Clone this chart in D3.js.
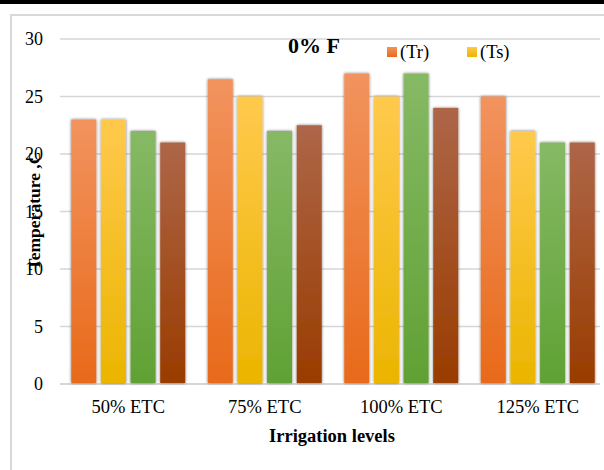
<!DOCTYPE html>
<html>
<head>
<meta charset="utf-8">
<script src="https://cdn.jsdelivr.net/npm/d3@7/dist/d3.min.js"></script>
<style>
  html, body { margin: 0; padding: 0; background: #fff; }
  svg { display: block; font-family: "Liberation Serif", "Times New Roman", serif; }
</style>
</head>
<body>
<svg id="chart" width="604" height="470"></svg>
<script>
// Canopy temperature per irrigation level, 0% F treatment
const categories = ["50% ETC", "75% ETC", "100% ETC", "125% ETC"];
const seriesKeys = ["tr", "ts", "s3", "s4"];
const trValues = [23, 26.5, 27, 25];
const tsValues = [23, 25, 25, 22];
const s3Values = [22, 22, 27, 21];
const s4Values = [21, 22.5, 24, 21];
const legendLabels = ["(Tr)", "(Ts)"];
const yTicks = [0, 5, 10, 15, 20, 25, 30];

// gradient stops (top, bottom) for each series
const seriesColors = [
  ["#F2935E", "#E86A1A"],
  ["#FFC94D", "#EBB500"],
  ["#86B965", "#60A134"],
  ["#AE6648", "#993C00"]
];

const seriesValues = [trValues, tsValues, s3Values, s4Values];
const rows = categories.map((c, i) => {
  const r = { category: c };
  seriesKeys.forEach((k, j) => { r[k] = seriesValues[j][i]; });
  return r;
});

const svg = d3.select("#chart");
const defs = svg.append("defs");

seriesColors.forEach((c, j) => {
  const g = defs.append("linearGradient")
    .attr("id", "grad-" + seriesKeys[j])
    .attr("x1", 0).attr("y1", 0).attr("x2", 0).attr("y2", 1);
  g.append("stop").attr("offset", "0%").attr("stop-color", c[0]);
  g.append("stop").attr("offset", "100%").attr("stop-color", c[1]);
});

const shadow = defs.append("filter").attr("id", "barShadow")
  .attr("x", "-40%").attr("y", "-10%").attr("width", "180%").attr("height", "120%");
shadow.append("feGaussianBlur").attr("in", "SourceAlpha").attr("stdDeviation", 1.8).attr("result", "blur");
shadow.append("feComponentTransfer").attr("in", "blur").attr("result", "soft")
  .append("feFuncA").attr("type", "linear").attr("slope", 0.55);
const merge = shadow.append("feMerge");
merge.append("feMergeNode").attr("in", "soft");
merge.append("feMergeNode").attr("in", "SourceGraphic");

// page rule and chart frame
svg.append("rect").attr("x", 0).attr("y", 0).attr("width", 604).attr("height", 4).attr("fill", "#000");
svg.append("path")
  .attr("d", "M11,470 V15 H604")
  .attr("fill", "none").attr("stroke", "#d9d9d9").attr("stroke-width", 2);

const plotLeft = 60, plotRight = 600;
const y = d3.scaleLinear().domain([0, 30]).range([384, 39]);
const x0 = d3.scaleBand().domain(categories).range([60, 606])
  .paddingInner(0.165).paddingOuter(0.0825);
const x1 = d3.scaleBand().domain(seriesKeys).range([0, x0.bandwidth()])
  .paddingInner(0.157).paddingOuter(0);

// gridlines
svg.append("g").selectAll("line").data(yTicks).join("line")
  .attr("x1", plotLeft).attr("x2", plotRight)
  .attr("y1", d => y(d)).attr("y2", d => y(d))
  .attr("stroke", "#d6d6d6").attr("stroke-width", d => d === 0 ? 2 : 1.5);

// y tick labels
svg.append("g").selectAll("text").data(yTicks).join("text")
  .attr("x", 43).attr("y", d => y(d) + 6)
  .attr("text-anchor", "end")
  .attr("font-size", 18).attr("fill", "#000")
  .text(d => d);

// bars
const groups = svg.append("g").selectAll("g").data(rows).join("g")
  .attr("transform", d => `translate(${x0(d.category)},0)`);
groups.selectAll("rect")
  .data(d => seriesKeys.map(k => ({ key: k, value: d[k] })))
  .join("rect")
  .attr("x", d => x1(d.key))
  .attr("width", x1.bandwidth())
  .attr("y", d => y(d.value))
  .attr("height", d => y(0) - 1 - y(d.value))
  .attr("fill", d => `url(#grad-${d.key})`)
  .attr("filter", "url(#barShadow)");

// category labels
svg.append("g").selectAll("text").data(categories).join("text")
  .attr("x", d => x0(d) + x0.bandwidth() / 2)
  .attr("y", 413)
  .attr("text-anchor", "middle")
  .attr("font-size", 18.5).attr("fill", "#000")
  .text(d => d);

// axis titles
svg.append("text")
  .attr("x", 332).attr("y", 442)
  .attr("text-anchor", "middle")
  .attr("font-size", 18.5).attr("font-weight", "bold")
  .text("Irrigation levels");

svg.append("text")
  .attr("transform", "translate(40,211) rotate(-90)")
  .attr("text-anchor", "middle")
  .attr("font-size", 17.5).attr("font-weight", "bold")
  .text("Temperature ,C");

// chart title
svg.append("text")
  .attr("x", 314).attr("y", 53)
  .attr("text-anchor", "middle")
  .attr("font-size", 22).attr("font-weight", "bold")
  .text("0% F");

// legend
const legendX = [387, 467];
const legend = svg.append("g").selectAll("g").data(legendLabels).join("g")
  .attr("transform", (d, i) => `translate(${legendX[i]},47)`);
legend.append("rect")
  .attr("width", 10).attr("height", 10)
  .attr("fill", (d, i) => `url(#grad-${seriesKeys[i]})`);
legend.append("text")
  .attr("x", 13).attr("y", 11)
  .attr("font-size", 18.5)
  .text(d => d);
</script>
</body>
</html>
